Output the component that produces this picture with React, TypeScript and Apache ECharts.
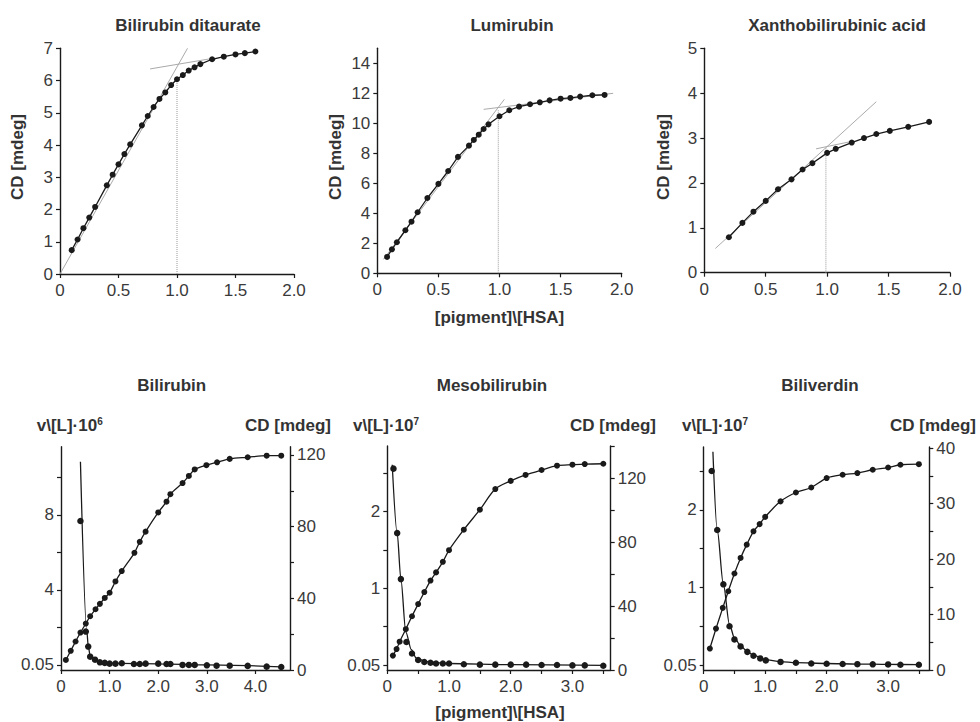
import React, { useEffect, useRef } from "react";
import * as echarts from "echarts";

// ---------- Panel 1: Bilirubin ditaurate ----------
const p1X = [0.1, 0.15, 0.2, 0.25, 0.3, 0.4, 0.45, 0.5, 0.55, 0.6, 0.7, 0.75, 0.8, 0.85, 0.9, 0.95, 1.0, 1.05, 1.1, 1.15, 1.2, 1.3, 1.4, 1.5, 1.58, 1.67];
const p1Y = [0.74, 1.07, 1.42, 1.75, 2.08, 2.75, 3.08, 3.4, 3.72, 4.02, 4.61, 4.9, 5.18, 5.43, 5.63, 5.86, 6.04, 6.17, 6.31, 6.41, 6.51, 6.66, 6.74, 6.81, 6.85, 6.9];
const p1SteepX = [0, 1.09];
const p1SteepY = [0, 7.0];
const p1FlatX = [0.77, 1.31];
const p1FlatY = [6.36, 6.69];
const p1DropX = [1.0, 1.0];
const p1DropY = [0, 6.0];

// ---------- Panel 2: Lumirubin ----------
const p2X = [0.08, 0.12, 0.16, 0.23, 0.28, 0.33, 0.41, 0.5, 0.58, 0.66, 0.75, 0.79, 0.83, 0.87, 0.91, 1.0, 1.08, 1.16, 1.25, 1.33, 1.41, 1.5, 1.58, 1.66, 1.76, 1.86];
const p2Y = [1.09, 1.6, 2.07, 2.87, 3.44, 4.07, 5.02, 5.96, 6.82, 7.76, 8.51, 8.89, 9.24, 9.62, 9.93, 10.47, 10.87, 11.11, 11.27, 11.4, 11.53, 11.64, 11.69, 11.78, 11.87, 11.89];
const p2SteepX = [0.05, 1.04];
const p2SteepY = [0.93, 11.6];
const p2FlatX = [0.87, 1.93];
const p2FlatY = [10.93, 12.0];
const p2DropX = [0.99, 0.99];
const p2DropY = [0, 10.9];

// ---------- Panel 3: Xanthobilirubinic acid ----------
const p3X = [0.2, 0.31, 0.4, 0.5, 0.6, 0.71, 0.8, 0.88, 1.0, 1.07, 1.2, 1.3, 1.4, 1.51, 1.66, 1.83];
const p3Y = [0.79, 1.11, 1.36, 1.6, 1.86, 2.08, 2.3, 2.44, 2.67, 2.76, 2.9, 3.0, 3.09, 3.16, 3.25, 3.36];
const p3SteepX = [0.09, 1.4];
const p3SteepY = [0.54, 3.81];
const p3FlatX = [0.91, 1.19];
const p3FlatY = [2.76, 2.92];
const p3DropX = [0.99, 0.99];
const p3DropY = [0, 2.78];

// ---------- Panel 4: Bilirubin ----------
const p4CdX = [0.1, 0.2, 0.3, 0.4, 0.51, 0.6, 0.71, 0.8, 0.9, 1.0, 1.12, 1.25, 1.51, 1.62, 1.74, 2.0, 2.17, 2.25, 2.5, 2.63, 2.75, 2.99, 3.21, 3.47, 3.84, 4.23, 4.53];
const p4CdY = [5.6, 10.7, 15.9, 20.9, 25.9, 30.0, 33.9, 36.9, 40.2, 43.1, 49.4, 55.2, 65.4, 71.5, 77.2, 87.9, 93.9, 98.1, 104.3, 108.3, 111.9, 114.3, 115.9, 117.8, 118.7, 119.6, 119.6];
const p4VX = [0.4, 0.51, 0.56, 0.6, 0.7, 0.8, 0.9, 1.0, 1.12, 1.25, 1.5, 1.62, 1.74, 2.0, 2.17, 2.25, 2.5, 2.63, 2.75, 3.0, 3.2, 3.47, 3.84, 4.23, 4.53];
const p4VY = [7.68, 1.78, 0.98, 0.44, 0.28, 0.14, 0.11, 0.07, 0.07, 0.09, 0.05, 0.05, 0.07, 0.07, 0.05, 0.05, 0.0, 0.0, 0.0, -0.02, -0.04, -0.04, -0.05, -0.09, -0.11];
const p4FitX = [0.4, 0.53, 0.56, 0.6, 0.66, 0.75, 0.9, 1.2, 2.0, 3.0, 4.53];
const p4FitY = [10.84, 1.87, 1.0, 0.5, 0.3, 0.18, 0.1, 0.08, 0.06, 0.0, -0.1];

// ---------- Panel 5: Mesobilirubin ----------
const p5CdX = [0.09, 0.15, 0.2, 0.3, 0.4, 0.5, 0.6, 0.7, 0.79, 0.9, 1.0, 1.24, 1.5, 1.75, 2.0, 2.24, 2.5, 2.75, 3.0, 3.2, 3.5];
const p5CdY = [9.0, 13.1, 17.7, 25.5, 33.6, 41.2, 48.7, 55.9, 61.0, 67.6, 74.9, 87.7, 100.2, 113.1, 118.2, 121.9, 125.0, 127.7, 128.3, 128.7, 128.9];
const p5VX = [0.1, 0.16, 0.22, 0.31, 0.4, 0.5, 0.6, 0.7, 0.79, 0.9, 1.0, 1.24, 1.5, 1.75, 2.0, 2.25, 2.5, 2.75, 3.0, 3.2, 3.5];
const p5VY = [2.56, 1.72, 1.12, 0.3, 0.15, 0.065, 0.04, 0.03, 0.02, 0.02, 0.02, 0.01, 0.005, 0.005, 0.005, 0.005, 0.0, 0.0, -0.005, -0.005, -0.01];
const p5FitX = [0.08, 0.16, 0.22, 0.3, 0.39, 0.47, 0.63, 1.0, 2.0, 3.5];
const p5FitY = [2.61, 1.72, 1.12, 0.43, 0.2, 0.09, 0.045, 0.02, 0.005, -0.005];

// ---------- Panel 6: Biliverdin ----------
const p6CdX = [0.1, 0.2, 0.31, 0.4, 0.5, 0.6, 0.7, 0.81, 0.91, 1.0, 1.25, 1.5, 1.75, 2.0, 2.26, 2.5, 2.75, 3.0, 3.2, 3.5];
const p6CdY = [3.87, 7.46, 11.2, 14.2, 17.4, 20.2, 22.6, 25.0, 26.3, 27.6, 30.4, 32.0, 32.9, 34.6, 35.2, 35.5, 36.1, 36.5, 37.0, 37.1];
const p6VX = [0.13, 0.22, 0.32, 0.42, 0.5, 0.6, 0.71, 0.81, 0.92, 1.01, 1.25, 1.5, 1.75, 2.0, 2.26, 2.5, 2.75, 3.0, 3.2, 3.5];
const p6VY = [2.5, 1.74, 1.04, 0.5, 0.33, 0.24, 0.17, 0.12, 0.085, 0.06, 0.04, 0.03, 0.02, 0.017, 0.013, 0.011, 0.009, 0.008, 0.004, 0.004];
const p6FitX = [0.15, 0.22, 0.32, 0.42, 0.5, 0.6, 0.7, 0.8, 1.0, 1.25, 1.5, 2.0, 2.5, 3.0, 3.5];
const p6FitY = [2.75, 1.74, 1.04, 0.52, 0.35, 0.25, 0.18, 0.13, 0.07, 0.045, 0.032, 0.02, 0.013, 0.008, 0.005];

// ---------- Tick values and labels ----------
const topXTicks = [0, 0.5, 1, 1.5, 2];
const p1YTicks = [0, 1, 2, 3, 4, 5, 6, 7];
const p2YTicks = [0, 2, 4, 6, 8, 10, 12, 14];
const p3YTicks = [0, 1, 2, 3, 4, 5];
const p4XTicks = [0, 1, 2, 3, 4];
const p56XTicks = [0, 0.5, 1, 1.5, 2, 2.5, 3, 3.5];
const botXLabels = [0, 1, 2, 3, 4];
const p4LTicks = [0, 2, 4, 6, 8, 10];
const p4LLabelVals = [0, 4, 8];
const p4LLabelTexts = ["0.05", "4", "8"];
const p56LTicks = [0, 0.5, 1, 1.5, 2, 2.5];
const p56LLabelVals = [0, 1, 2];
const p56LLabelTexts = ["0.05", "1", "2"];
const p4RTicks = [0, 20, 40, 60, 80, 100, 120];
const p5RTicks = [0, 20, 40, 60, 80, 100, 120, 140];
const p45RLabels = [0, 40, 80, 120];
const p6RTicks = [0, 5, 10, 15, 20, 25, 30, 35, 40];
const p6RLabels = [0, 10, 20, 30, 40];

const FONT = "'Liberation Sans', Arial, Helvetica, sans-serif";
const INK = "#1a1a1a";
const TXT = "#333";
const LBL = "#3a3a3a";
const FS = 17;

const pairs = (xs: number[], ys: number[]) => xs.map((x, i) => [x, ys[i]]);
const fmtX = (v: number) => (v === 0 ? "0" : v.toFixed(1));

function xAx(grid: number, max: number, ticks: number[], labels: number[]) {
  return {
    type: "value",
    gridIndex: grid,
    min: 0,
    max,
    axisLine: { show: true, onZero: false, lineStyle: { color: INK, width: 1.4 } },
    axisTick: { show: true, length: 4, customValues: ticks, lineStyle: { color: INK, width: 1.2 } },
    axisLabel: { customValues: labels, formatter: fmtX, margin: 8, fontSize: FS, fontFamily: FONT, color: LBL },
    splitLine: { show: false },
  };
}

function yAx(
  grid: number,
  position: "left" | "right",
  min: number,
  max: number,
  ticks: number[],
  labels: number[],
  texts?: string[]
) {
  return {
    type: "value",
    gridIndex: grid,
    position,
    min,
    max,
    axisLine: { show: true, onZero: false, lineStyle: { color: INK, width: 1.4 } },
    axisTick: { show: true, length: 4, customValues: ticks, lineStyle: { color: INK, width: 1.2 } },
    axisLabel: {
      customValues: labels,
      formatter: (v: number) => {
        if (texts) {
          const i = labels.indexOf(v);
          if (i >= 0) return texts[i];
        }
        return String(v);
      },
      margin: 7,
      fontSize: FS,
      fontFamily: FONT,
      color: LBL,
    },
    splitLine: { show: false },
  };
}

function dataLine(xi: number, yi: number, xs: number[], ys: number[], smooth: number | boolean) {
  return {
    type: "line",
    xAxisIndex: xi,
    yAxisIndex: yi,
    data: pairs(xs, ys),
    symbol: "circle",
    symbolSize: 6,
    showSymbol: true,
    smooth,
    lineStyle: { color: INK, width: 1.3 },
    itemStyle: { color: INK },
    z: 4,
    silent: true,
  };
}

function refLine(xi: number, yi: number, xs: number[], ys: number[], dotted: boolean) {
  return {
    type: "line",
    xAxisIndex: xi,
    yAxisIndex: yi,
    data: pairs(xs, ys),
    symbol: "none",
    lineStyle: { color: dotted ? "#999" : "#aaa", width: 1, type: dotted ? "dotted" : "solid" },
    z: 2,
    silent: true,
  };
}

function fitLine(xi: number, yi: number, xs: number[], ys: number[]) {
  return {
    type: "line",
    xAxisIndex: xi,
    yAxisIndex: yi,
    data: pairs(xs, ys),
    symbol: "none",
    smooth: 0.3,
    smoothMonotone: "x",
    lineStyle: { color: INK, width: 1.3 },
    z: 3,
    silent: true,
  };
}

function dots(xi: number, yi: number, xs: number[], ys: number[]) {
  return {
    type: "scatter",
    xAxisIndex: xi,
    yAxisIndex: yi,
    data: pairs(xs, ys),
    symbol: "circle",
    symbolSize: 6.5,
    itemStyle: { color: INK, opacity: 1 },
    z: 4,
    silent: true,
  };
}

function txt(x: number, y: number, text: string, align = "center", rotation = 0) {
  return {
    type: "text",
    x,
    y,
    rotation,
    silent: true,
    style: {
      text,
      fill: TXT,
      fontSize: FS,
      fontWeight: "bold",
      fontFamily: FONT,
      align,
      textAlign: align,
      verticalAlign: "middle",
      textVerticalAlign: "middle",
    },
  };
}

function supTxt(x: number, y: number, base: string, sup: string) {
  return {
    type: "text",
    x,
    y,
    silent: true,
    style: {
      text: "{a|" + base + "}{s|" + sup + "}",
      align: "left",
      textAlign: "left",
      verticalAlign: "middle",
      textVerticalAlign: "middle",
      fontFamily: FONT,
      fontSize: FS,
      fontWeight: "bold",
      fill: TXT,
      rich: {
        a: { fontSize: FS, fontWeight: "bold", fontFamily: FONT, fill: TXT },
        s: { fontSize: 10, fontWeight: "bold", fontFamily: FONT, fill: TXT, verticalAlign: "top" },
      },
    },
  };
}

export default function App() {
  const ref = useRef<HTMLDivElement>(null);

  useEffect(() => {
    document.body.style.margin = "0";
    const chart = echarts.init(ref.current!, null, { renderer: "svg" });

    const option = {
      animation: false,
      backgroundColor: "#ffffff",
      grid: [
        { left: 60, top: 48.3, width: 234, height: 225.7 },
        { left: 377.3, top: 48.3, width: 244.4, height: 225 },
        { left: 704.3, top: 48.3, width: 245.7, height: 224.4 },
        { left: 61, top: 446.7, width: 229, height: 223.3 },
        { left: 387.3, top: 446, width: 223.4, height: 224 },
        { left: 703.7, top: 447, width: 225.6, height: 223 },
      ],
      xAxis: [
        xAx(0, 2, topXTicks, topXTicks),
        xAx(1, 2, topXTicks, topXTicks),
        xAx(2, 2, topXTicks, topXTicks),
        xAx(3, 4.71, p4XTicks, botXLabels),
        xAx(4, 3.62, p56XTicks, botXLabels.slice(0, 4)),
        xAx(5, 3.67, p56XTicks, botXLabels.slice(0, 4)),
      ],
      yAxis: [
        yAx(0, "left", 0, 7, p1YTicks, p1YTicks),
        yAx(1, "left", 0, 15, p2YTicks, p2YTicks),
        yAx(2, "left", 0, 5, p3YTicks, p3YTicks),
        yAx(3, "left", -0.27, 11.64, p4LTicks, p4LLabelVals, p4LLabelTexts),
        yAx(3, "right", 0, 124.6, p4RTicks, p45RLabels),
        yAx(4, "left", -0.065, 2.855, p56LTicks, p56LLabelVals, p56LLabelTexts),
        yAx(4, "right", 0, 140, p5RTicks, p45RLabels),
        yAx(5, "left", -0.064, 2.81, p56LTicks, p56LLabelVals, p56LLabelTexts),
        yAx(5, "right", 0, 40.2, p6RTicks, p6RLabels),
      ],
      series: [
        refLine(0, 0, p1SteepX, p1SteepY, false),
        refLine(0, 0, p1FlatX, p1FlatY, false),
        refLine(0, 0, p1DropX, p1DropY, true),
        dataLine(0, 0, p1X, p1Y, false),

        refLine(1, 1, p2SteepX, p2SteepY, false),
        refLine(1, 1, p2FlatX, p2FlatY, false),
        refLine(1, 1, p2DropX, p2DropY, true),
        dataLine(1, 1, p2X, p2Y, false),

        refLine(2, 2, p3SteepX, p3SteepY, false),
        refLine(2, 2, p3FlatX, p3FlatY, false),
        refLine(2, 2, p3DropX, p3DropY, true),
        dataLine(2, 2, p3X, p3Y, false),

        dataLine(3, 4, p4CdX, p4CdY, 0.3),
        fitLine(3, 3, p4FitX, p4FitY),
        dots(3, 3, p4VX, p4VY),

        dataLine(4, 6, p5CdX, p5CdY, 0.3),
        fitLine(4, 5, p5FitX, p5FitY),
        dots(4, 5, p5VX, p5VY),

        dataLine(5, 8, p6CdX, p6CdY, 0.3),
        fitLine(5, 7, p6FitX, p6FitY),
        dots(5, 7, p6VX, p6VY),
      ],
      graphic: [
        txt(188, 25, "Bilirubin ditaurate"),
        txt(512, 25, "Lumirubin"),
        txt(837, 25, "Xanthobilirubinic acid"),
        txt(17.3, 157, "CD [mdeg]", "center", Math.PI / 2),
        txt(335, 157, "CD [mdeg]", "center", Math.PI / 2),
        txt(663.3, 157, "CD [mdeg]", "center", Math.PI / 2),
        txt(499.5, 317, "[pigment]\\[HSA]"),

        txt(171.7, 385, "Bilirubin"),
        txt(492, 385, "Mesobilirubin"),
        txt(820, 385, "Biliverdin"),
        supTxt(36.7, 425, "v\\[L]·10", "6"),
        supTxt(353, 425, "v\\[L]·10", "7"),
        supTxt(682, 425, "v\\[L]·10", "7"),
        txt(245, 425, "CD [mdeg]", "left"),
        txt(570, 425, "CD [mdeg]", "left"),
        txt(890, 425, "CD [mdeg]", "left"),
        txt(500, 712.5, "[pigment]\\[HSA]"),
      ],
    };

    chart.setOption(option as any);
    return () => chart.dispose();
  }, []);

  return <div ref={ref} style={{ width: 980, height: 722 }} />;
}
